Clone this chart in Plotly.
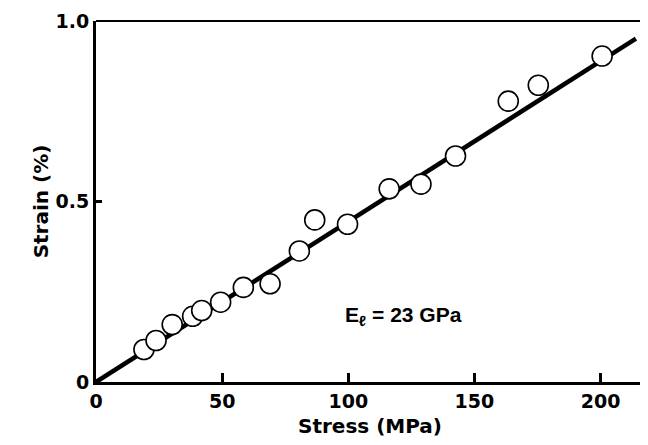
import plotly.graph_objects as go

# Data
stress = [19.0, 23.8, 30.2, 38.3, 41.9, 49.4, 58.4, 69.0, 80.6, 86.7, 99.7,
          116.2, 128.8, 142.5, 163.4, 175.3, 200.6]
strain = [0.090, 0.115, 0.159, 0.182, 0.198, 0.221, 0.262, 0.272, 0.363, 0.449,
          0.437, 0.535, 0.548, 0.626, 0.778, 0.822, 0.903]
fit_x = [0, 214]
fit_y = [0, 0.951]
x_ticks = [0, 50, 100, 150, 200]
y_ticks = [0, 0.5, 1.0]
y_labels = ["0", "0.5", "1.0"]

FONT = "DejaVu Sans"

fig = go.Figure()
fig.add_trace(go.Scatter(x=fit_x, y=fit_y, mode="lines",
                         line=dict(color="black", width=4.5),
                         hoverinfo="skip", showlegend=False))
fig.add_trace(go.Scatter(x=stress, y=strain, mode="markers",
                         marker=dict(size=20, color="white",
                                     line=dict(color="black", width=1.6)),
                         showlegend=False))

fig.add_annotation(x=97.9, y=0.182, xref="x", yref="y", xanchor="left",
                   yanchor="middle", showarrow=False,
                   text="E<sub>ℓ</sub> = 23 GPa",
                   font=dict(family="Liberation Sans", size=21, color="black", weight="bold"))

# thinner top and right frame
fig.add_shape(type="line", xref="paper", yref="paper", x0=0, x1=1, y0=1, y1=1,
              line=dict(color="black", width=2))
fig.add_shape(type="line", xref="paper", yref="paper", x0=1, x1=1, y0=0, y1=1,
              line=dict(color="black", width=2))

fig.update_xaxes(range=[0, 217.2], tickvals=x_ticks, ticktext=[str(v) for v in x_ticks],
                 ticks="inside", ticklen=9, tickwidth=2.5, tickcolor="black",
                 showline=True, linewidth=3, linecolor="black",
                 showgrid=False, zeroline=False, automargin=False,
                 tickfont=dict(family=FONT, size=19, color="black", weight="bold"),
                 title=dict(text="Stress (MPa)", standoff=9,
                            font=dict(family=FONT, size=20, color="black", weight="bold")))
fig.update_yaxes(range=[0, 1.0], tickvals=y_ticks, ticktext=y_labels,
                 ticks="inside", ticklen=6, tickwidth=2.5, tickcolor="black",
                 showline=True, linewidth=3, linecolor="black",
                 showgrid=False, zeroline=False, automargin=False,
                 tickfont=dict(family=FONT, size=19, color="black", weight="bold"),
                 title=dict(text="Strain (%)", standoff=2,
                            font=dict(family=FONT, size=20, color="black", weight="bold")))

# the page body adds an 8px offset, so the figure is sized to fit the window
fig.update_layout(width=640, height=437,
                  margin=dict(l=88, r=4, t=12.7, b=62.5),
                  paper_bgcolor="white", plot_bgcolor="white")

fig.write_html("out.html")
